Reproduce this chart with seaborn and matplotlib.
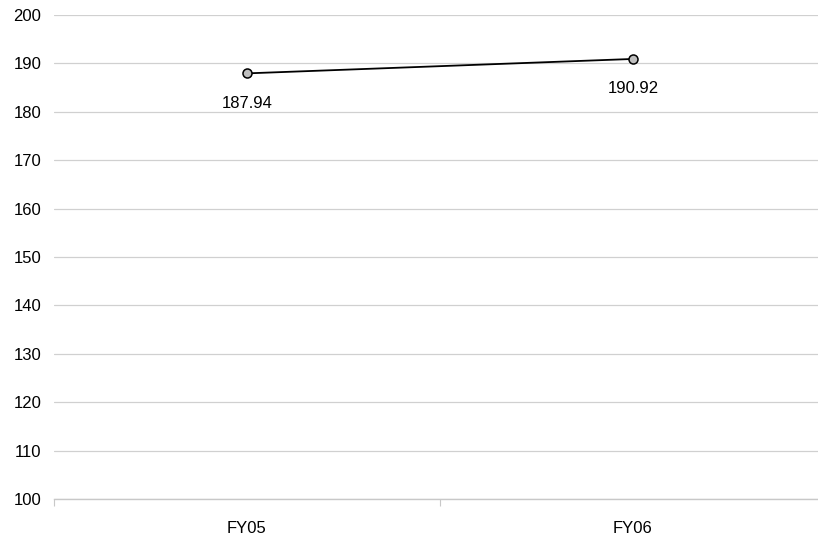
import matplotlib
matplotlib.use("Agg")
import matplotlib.pyplot as plt
import seaborn as sns
import pandas as pd
from matplotlib.ticker import FixedLocator, NullFormatter

categories = ["FY05", "FY06"]
values = [187.94, 190.92]
y_ticks = [100, 110, 120, 130, 140, 150, 160, 170, 180, 190, 200]

sns.set_theme(style="white")
plt.rcParams['font.family'] = ['Liberation Sans', 'DejaVu Sans']

df = pd.DataFrame({"cat": categories, "val": values})

fig = plt.figure(figsize=(8.18, 5.38), dpi=100)
ax = fig.add_axes([54/818, 1-499/538, (826-54)/818, (499-15)/538])

sns.lineplot(data=df, x="cat", y="val", ax=ax, color="black", linewidth=1.3,
             marker="o", markersize=6.5, markerfacecolor="#bfbfbf",
             markeredgecolor="black", markeredgewidth=1.1, sort=False)

ax.set_xlim(-0.5, 1.5)
ax.set_ylim(100, 200)
ax.set_yticks(y_ticks)
ax.set_xticks(range(len(categories)))
ax.set_xticklabels(categories)
ax.set_xlabel("")
ax.set_ylabel("")
ax.grid(axis="y", color="#d0d0d0", linewidth=0.9)
ax.set_axisbelow(True)
for s in ["top", "right", "left"]:
    ax.spines[s].set_visible(False)
ax.spines["bottom"].set_color("#c8c8c8")
ax.spines["bottom"].set_linewidth(1.0)

ax.tick_params(axis="y", length=0, labelsize=12, colors="black", pad=9)
ax.tick_params(axis="x", which="major", length=0, labelsize=12, colors="black", pad=15.5)
ax.xaxis.set_minor_locator(FixedLocator([-0.5, 0.5, 1.5]))
ax.xaxis.set_minor_formatter(NullFormatter())
ax.tick_params(axis="x", which="minor", length=5, color="#c8c8c8", width=0.8, bottom=True)

for i, v in enumerate(values):
    ax.annotate(f"{v:.2f}", (i, v), xytext=(0, -21.5), textcoords="offset points",
                ha="center", va="center", fontsize=12, color="black")

fig.savefig("out.png", dpi=100)
